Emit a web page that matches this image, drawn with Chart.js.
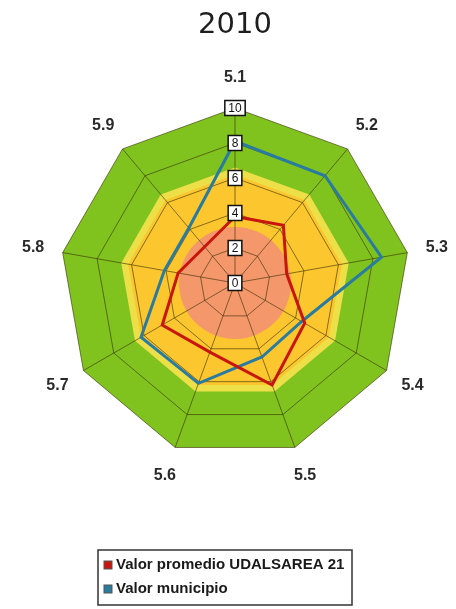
<!DOCTYPE html>
<html>
<head>
<meta charset="utf-8">
<script src="https://cdn.jsdelivr.net/npm/chart.js@4/dist/chart.umd.min.js"></script>
<style>
  html, body { margin: 0; padding: 0; background: #ffffff; }
  #wrap { width: 456px; height: 609px; position: relative; }
</style>
</head>
<body>
<div id="wrap"><canvas id="c" width="456" height="609"></canvas></div>
<script>
// ---- data ----
const categories = ['5.1', '5.2', '5.3', '5.4', '5.5', '5.6', '5.7', '5.8', '5.9'];
const seriesNames = ['Valor promedio UDALSAREA 21', 'Valor municipio'];
const promedioValues = [3.8, 4.3, 3.0, 4.6, 6.2, 4.2, 4.8, 3.3, 2.7];
const municipioValues = [8.1, 8.0, 8.5, 4.4, 4.5, 6.1, 6.2, 4.1, 4.1];
const tickValues = [0, 2, 4, 6, 8, 10];
const zoneLimits = [10, 6.6, 6.2, 3.2];
const titleText = '2010';

const zoneColors = ['#80C31F', '#ECDF48', '#FCC72E', '#F4976A'];
const seriesColors = ['#C8160F', '#2A7BA0'];

const bandsPlugin = {
  id: 'bands',
  beforeDraw(chart) {
    const s = chart.scales.r;
    const ctx = chart.ctx;
    ctx.save();
    zoneLimits.forEach((lim, z) => {
      ctx.beginPath();
      if (z === zoneLimits.length - 1) {
        ctx.arc(s.xCenter, s.yCenter, s.getDistanceFromCenterForValue(lim), 0, Math.PI * 2);
      } else {
        categories.forEach((c, i) => {
          const p = s.getPointPositionForValue(i, lim);
          if (i === 0) ctx.moveTo(p.x, p.y); else ctx.lineTo(p.x, p.y);
        });
        ctx.closePath();
      }
      ctx.fillStyle = zoneColors[z];
      ctx.fill();
    });
    ctx.restore();
  },
  afterDatasetsDraw(chart) {
    const s = chart.scales.r;
    const ctx = chart.ctx;
    ctx.save();
    ctx.font = '12px "Liberation Sans", Arial, sans-serif';
    ctx.textAlign = 'center';
    ctx.textBaseline = 'middle';
    tickValues.forEach(v => {
      const p = s.getPointPositionForValue(0, v);
      const label = String(v);
      const w = ctx.measureText(label).width + 7;
      const h = 15;
      ctx.fillStyle = '#ffffff';
      ctx.fillRect(p.x - w / 2, p.y - h / 2, w, h);
      ctx.strokeStyle = '#111111';
      ctx.lineWidth = 1.5;
      ctx.strokeRect(p.x - w / 2, p.y - h / 2, w, h);
      ctx.fillStyle = '#111111';
      ctx.fillText(label, p.x, p.y + 0.5);
    });
    ctx.restore();
  },
  afterDraw(chart) {
    const s = chart.scales.r;
    const ctx = chart.ctx;
    ctx.save();
    // point labels
    ctx.font = 'bold 16px "Liberation Sans", Arial, sans-serif';
    ctx.fillStyle = '#2a2a2a';
    ctx.textAlign = 'center';
    ctx.textBaseline = 'middle';
    categories.forEach((c, i) => {
      const p = s.getPointPosition(i, s.drawingArea + 30);
      ctx.fillText(c, p.x, p.y);
    });
    // legend
    const lx = 98, ly = 550, lw = 254, lh = 55;
    ctx.strokeStyle = '#333333';
    ctx.lineWidth = 1.5;
    ctx.strokeRect(lx, ly, lw, lh);
    ctx.font = 'bold 15px "Liberation Sans", Arial, sans-serif';
    ctx.textAlign = 'left';
    chart.data.datasets.forEach((ds, i) => {
      const y = 565 + i * 24;
      ctx.fillStyle = ds.borderColor;
      ctx.fillRect(104, y - 4, 8, 8);
      ctx.strokeStyle = '#555555';
      ctx.lineWidth = 1;
      ctx.strokeRect(104, y - 4, 8, 8);
      ctx.fillStyle = '#1a1a1a';
      ctx.fillText(ds.label, 116, y);
    });
    ctx.restore();
  }
};

new Chart(document.getElementById('c'), {
  type: 'radar',
  data: {
    labels: categories,
    datasets: [
      { label: seriesNames[0], data: promedioValues, borderColor: seriesColors[0], backgroundColor: seriesColors[0], borderWidth: 3, fill: false, pointRadius: 0, tension: 0 },
      { label: seriesNames[1], data: municipioValues, borderColor: seriesColors[1], backgroundColor: seriesColors[1], borderWidth: 3, fill: false, pointRadius: 0, tension: 0 }
    ]
  },
  options: {
    responsive: false,
    animation: false,
    layout: { padding: { left: 60, right: 46, top: 0, bottom: 150 } },
    plugins: {
      legend: { display: false },
      tooltip: { enabled: false },
      title: {
        display: true,
        text: titleText,
        color: '#1e1e1e',
        font: { family: '"DejaVu Sans", sans-serif', size: 29, weight: 'normal', lineHeight: 1.2 },
        padding: { top: 8, bottom: 66 }
      }
    },
    scales: {
      r: {
        min: 0,
        max: 10,
        ticks: { display: false, stepSize: 2 },
        pointLabels: { display: false },
        grid: { color: 'rgba(55,45,5,0.6)', lineWidth: 1 },
        angleLines: { color: 'rgba(55,45,5,0.6)', lineWidth: 1 }
      }
    }
  },
  plugins: [bandsPlugin]
});
</script>
</body>
</html>
